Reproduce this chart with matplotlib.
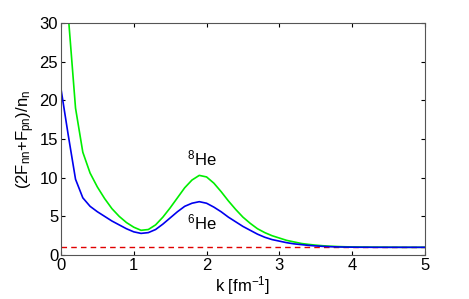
import numpy as np
import matplotlib
matplotlib.use("Agg")
import matplotlib.pyplot as plt

plt.rcParams['font.family'] = ['Liberation Sans', 'DejaVu Sans']
plt.rcParams['mathtext.fontset'] = 'custom'
plt.rcParams['mathtext.rm'] = 'Liberation Sans'
plt.rcParams['mathtext.it'] = 'Liberation Sans'

k = [round(0.1 * i, 1) for i in range(51)]
he6 = [21.5, 15.5, 9.8, 7.4, 6.3, 5.6, 5.0, 4.4, 3.9, 3.4,
       3.0, 2.8, 2.9, 3.3, 4.0, 4.8, 5.6, 6.3, 6.7, 6.9,
       6.7, 6.2, 5.6, 4.9, 4.3, 3.7, 3.2, 2.7, 2.3, 2.0,
       1.8, 1.6, 1.45, 1.35, 1.25, 1.18, 1.12, 1.08, 1.05, 1.03,
       1.02, 1.01, 1.01, 1.0, 1.0, 1.0, 1.0, 1.0, 1.0, 1.0, 1.0]
he8 = [45.0, 31.0, 19.0, 13.3, 10.6, 8.8, 7.3, 6.0, 5.0, 4.2,
       3.6, 3.2, 3.3, 3.9, 4.9, 6.1, 7.4, 8.7, 9.7, 10.3,
       10.1, 9.3, 8.2, 7.0, 5.9, 4.9, 4.1, 3.4, 2.9, 2.5,
       2.2, 1.9, 1.7, 1.5, 1.38, 1.28, 1.2, 1.14, 1.1, 1.07,
       1.05, 1.04, 1.03, 1.02, 1.02, 1.01, 1.01, 1.0, 1.0, 1.0, 1.0]
ref_k = [0, 5]
ref_v = [1, 1]

fig = plt.figure(figsize=(4.69, 2.99), dpi=100)
ax = fig.add_axes([0.130, 0.147, 0.776, 0.776])
ax.plot(ref_k, ref_v, color='#e00000', linestyle=(0, (4, 3)), linewidth=1.0)
ax.plot(k, he8, color='#00ee00', linewidth=1.2)
ax.plot(k, he6, color='#0000ee', linewidth=1.2)
ax.set_xlim(0, 5)
ax.set_ylim(0, 30)
ax.set_xticks([0, 1, 2, 3, 4, 5])
ax.set_yticks([0, 5, 10, 15, 20, 25, 30])
ax.tick_params(direction='in', top=True, right=True, labelsize=12, length=3, pad=2)
for s in ax.spines.values():
    s.set_color('#555555')
ax.set_xlabel(r'k [fm$^{-1}$]', fontsize=12, labelpad=1)
ax.set_ylabel(r'(2F$_{nn}$+F$_{pn}$)/n$_n$', fontsize=12, labelpad=2)
ax.text(1.94, 12.5, r'$^{8}$He', fontsize=12, ha='center', va='center')
ax.text(1.93, 4.2, r'$^{6}$He', fontsize=12, ha='center', va='center')
fig.savefig('out.png', dpi=100)
